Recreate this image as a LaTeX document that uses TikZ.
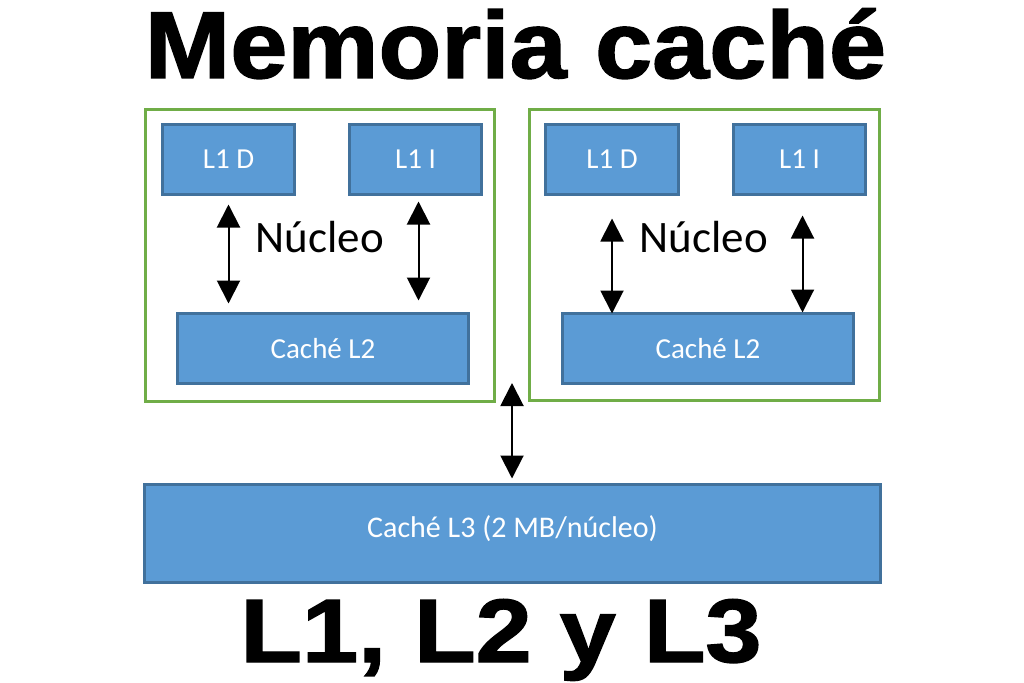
\documentclass[tikz,border=0pt]{standalone}
\usepackage{fontspec}
\setmainfont{Carlito}
\newfontfamily\headfont{Liberation Sans}[FakeBold=1.5]
\usetikzlibrary{arrows.meta}
\definecolor{boxfill}{HTML}{5B9BD5}
\definecolor{boxline}{HTML}{41719C}
\definecolor{coreline}{HTML}{70AD47}
\tikzset{
  cachebox/.style={draw=boxline, fill=boxfill, line width=3pt, text=white, anchor=north west,
    inner sep=0pt, outer sep=0pt, font=\fontsize{29}{31}\selectfont},
  corebox/.style={draw=coreline, line width=3pt, anchor=north west, inner sep=0pt, outer sep=0pt},
  corelabel/.style={anchor=base, font=\fontsize{45}{50}\selectfont},
  biarrow/.style={line width=2pt, {Triangle[length=23pt,width=23pt]}-{Triangle[length=23pt,width=23pt]}},
  headline/.style={anchor=base, inner sep=0pt, font=\headfont\bfseries}
}
\begin{document}
\begin{tikzpicture}[x=1pt,y=-1pt]
\useasboundingbox[fill=white] (0,0) rectangle (1024,682);
% title
\node[headline] (title) at (515.5,78) {\scalebox{1.08}[1]{\fontsize{95}{100}\selectfont Memoria caché}};
\node[headline] (subtitle) at (501,662) {\scalebox{1.12}[1]{\fontsize{90}{96}\selectfont L1, L2 y L3}};
% core boxes
\node[corebox, minimum width=349pt, minimum height=292pt] (coreA) at (145.5,109.5) {};
\node[corebox, minimum width=350pt, minimum height=291pt] (coreB) at (529.5,109.5) {};
% left core
\node[cachebox, minimum width=132pt, minimum height=70pt] (l1dA) at (162.5,124.5) {L1 D};
\node[cachebox, minimum width=132pt, minimum height=70pt] (l1iA) at (349.5,124.5) {L1 I};
\node[cachebox, minimum width=291pt, minimum height=70pt] (l2A) at (177.5,313.5) {Caché L2};
\node[corelabel] (nucA) at (320,252) {Núcleo};
% right core
\node[cachebox, minimum width=133pt, minimum height=70pt] (l1dB) at (545.5,124.5) {L1 D};
\node[cachebox, minimum width=132pt, minimum height=70pt] (l1iB) at (733.5,124.5) {L1 I};
\node[cachebox, minimum width=291pt, minimum height=70pt] (l2B) at (562.5,313.5) {Caché L2};
\node[corelabel] (nucB) at (704,252) {Núcleo};
% L3
\node[cachebox, minimum width=736pt, minimum height=98pt, font=\fontsize{30}{32}\selectfont] (l3) at (144.5,484.5) {\raisebox{13pt}{Caché L3 (2 MB/núcleo)}};
% arrows
\coordinate (aiA) at ([xshift=3pt]l1iA.south);
\coordinate (aiB) at ([xshift=3pt]l1iB.south);
\coordinate (bus) at (512,383);
\draw[biarrow, shorten <=10pt, shorten >=10pt] (l1dA.south) -- (l2A.north -| l1dA.south);
\draw[biarrow, shorten <=7pt, shorten >=13pt] (aiA) -- (l2A.north -| aiA);
\draw[biarrow, shorten <=24pt, shorten >=0pt] (l1dB.south) -- (l2B.north -| l1dB.south);
\draw[biarrow, shorten <=21pt, shorten >=1pt] (aiB) -- (l2B.north -| aiB);
\draw[biarrow, shorten >=6pt] (bus) -- (l3.north -| bus);
\end{tikzpicture}
\end{document}
